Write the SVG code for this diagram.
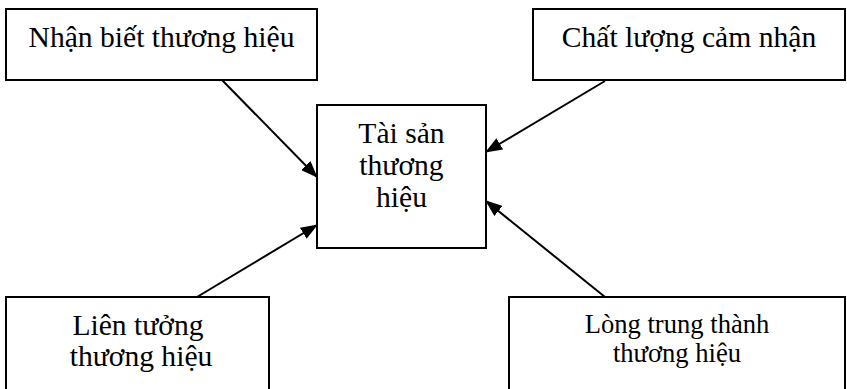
<svg xmlns="http://www.w3.org/2000/svg" width="847" height="389" viewBox="0 0 847 389">
<style>
.box{fill:#fff;stroke:#000;stroke-width:2}
.t{font-family:"Liberation Serif","Times New Roman",serif;font-size:29.6px;fill:#000;text-anchor:middle}
.s{font-size:26.6px}
.c{stroke:#000;stroke-width:2;fill:none;marker-end:url(#ah)}
</style>
<defs>
<marker id="ah" markerWidth="17" markerHeight="13" refX="16" refY="6.5" orient="auto" markerUnits="userSpaceOnUse">
<path d="M0,0 L17,6.5 L0,13 Z" fill="#000"/>
</marker>
</defs>
<rect width="847" height="389" fill="#fff"/>
<g id="n1"><rect class="box" x="6" y="9" width="311" height="71"/><text class="t" x="161.5" y="47">Nhận biết thương hiệu</text></g>
<g id="n2"><rect class="box" x="533" y="9" width="312" height="71"/><text class="t" x="689" y="47">Chất lượng cảm nhận</text></g>
<g id="center"><rect class="box" x="317" y="105" width="169" height="143"/><text class="t" x="401.5" y="143">Tài sản</text><text class="t" x="401.5" y="175">thương</text><text class="t" x="401.5" y="207">hiệu</text></g>
<g id="n3"><rect class="box" x="6" y="297" width="263" height="110"/><text class="t" x="138" y="335">Liên tưởng</text><text class="t" x="141" y="366">thương hiệu</text></g>
<g id="n4"><rect class="box" x="509" y="297" width="336" height="110"/><text class="t s" x="677" y="333">Lòng trung thành</text><text class="t s" x="677" y="362">thương hiệu</text></g>
<g id="connectors">
<line class="c" x1="222" y1="80" x2="317" y2="177"/>
<line class="c" x1="605" y1="81" x2="486" y2="152"/>
<line class="c" x1="197" y1="297" x2="317" y2="225"/>
<line class="c" x1="605" y1="297" x2="486" y2="201"/>
</g>
</svg>
